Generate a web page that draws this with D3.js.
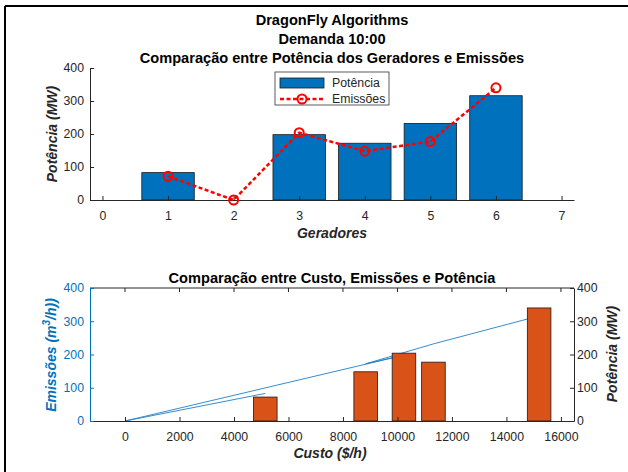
<!DOCTYPE html>
<html>
<head>
<meta charset="UTF-8">
<script src="https://d3js.org/d3.v7.min.js"></script>
<style>
  body { margin: 0; background: #fff; }
  svg { display: block; font-family: "Liberation Sans", Arial, sans-serif; }
  .tick text { font-size: 12.3px; }
</style>
</head>
<body>
<svg width="628" height="472"></svg>
<script>
// data
const geradores = [1, 2, 3, 4, 5, 6];
const potencia = [83, 0, 198, 172, 232, 316];      // MW
const emissoes = [72, 0, 204, 148, 177, 340];      // m3/h
const custo = [5149, 0, 10239, 8833, 11321, 15200]; // $/h
const xTicksTop = [0, 1, 2, 3, 4, 5, 6, 7];
const yTicks = [0, 100, 200, 300, 400];
const xTicksBottom = [0, 2000, 4000, 6000, 8000, 10000, 12000, 14000, 16000];

const svg = d3.select("svg");
const gray = "#262626";
const blue = "#0072BD";
const orange = "#D95319";

// figure frame
svg.append("line").attr("x1", 5).attr("x2", 628).attr("y1", 6).attr("y2", 6)
  .attr("stroke", "#000").attr("stroke-width", 2);
svg.append("line").attr("x1", 5).attr("x2", 5).attr("y1", 6).attr("y2", 472)
  .attr("stroke", "#000").attr("stroke-width", 2);

// ---------- top chart ----------
const x1 = d3.scaleLinear().domain([-0.19, 7.19]).range([90, 574]);
const y1 = d3.scaleLinear().domain([0, 400]).range([200, 68]);

const titles = ["DragonFly Algorithms", "Demanda 10:00", "Comparação entre Potência dos Geradores e Emissões"];
svg.selectAll(".ttl").data(titles).enter().append("text")
  .attr("class", "ttl")
  .attr("x", 332).attr("y", (d, i) => 25 + i * 19)
  .attr("text-anchor", "middle").attr("font-size", 14.6).attr("font-weight", "bold")
  .attr("fill", "#000").text(d => d);

const bw = 0.8;
svg.append("g").selectAll("rect").data(geradores).enter().append("rect")
  .attr("x", d => x1(d - bw / 2))
  .attr("width", x1(bw) - x1(0))
  .attr("y", (d, i) => y1(potencia[i]))
  .attr("height", (d, i) => y1(0) - y1(potencia[i]))
  .attr("fill", blue).attr("stroke", "#1a1a1a").attr("stroke-width", 0.8);

const gx1 = svg.append("g").attr("transform", "translate(0,200)")
  .call(d3.axisBottom(x1).tickValues(xTicksTop).tickSizeInner(-4).tickSizeOuter(0).tickPadding(11));
const gy1 = svg.append("g").attr("transform", "translate(90,0)")
  .call(d3.axisLeft(y1).tickValues(yTicks).tickSizeInner(-4).tickSizeOuter(0).tickPadding(6));
[gx1, gy1].forEach(g => {
  g.select(".domain").attr("stroke", gray);
  g.selectAll(".tick line").attr("stroke", gray);
  g.selectAll(".tick text").attr("fill", gray);
});

// emissions line
const lineTop = d3.line().x(d => x1(d[0])).y(d => y1(d[1]));
const emPts = geradores.map((g, i) => [g, emissoes[i]]);
svg.append("path").datum(emPts).attr("d", lineTop)
  .attr("fill", "none").attr("stroke", "#ff0000").attr("stroke-width", 2.5)
  .attr("stroke-dasharray", "4,2.5");
svg.append("g").selectAll("circle").data(emPts).enter().append("circle")
  .attr("cx", d => x1(d[0])).attr("cy", d => y1(d[1])).attr("r", 4.5)
  .attr("fill", "none").attr("stroke", "#ff0000").attr("stroke-width", 2);

svg.append("text").attr("transform", "translate(52,134) rotate(-90)")
  .attr("text-anchor", "middle").attr("dominant-baseline", "central")
  .attr("font-size", 14).attr("font-weight", "bold").attr("font-style", "italic")
  .attr("fill", gray).text("Potência (MW)");
svg.append("text").attr("x", 332).attr("y", 238)
  .attr("text-anchor", "middle")
  .attr("font-size", 14).attr("font-weight", "bold").attr("font-style", "italic")
  .attr("fill", gray).text("Geradores");

// legend
const lg = svg.append("g");
lg.append("rect").attr("x", 275).attr("y", 72).attr("width", 114).attr("height", 33)
  .attr("fill", "#fff").attr("stroke", "#333").attr("stroke-width", 0.8);
lg.append("rect").attr("x", 280).attr("y", 78).attr("width", 44).attr("height", 10)
  .attr("fill", blue).attr("stroke", "#1a1a1a").attr("stroke-width", 0.8);
lg.append("line").attr("x1", 280).attr("x2", 324).attr("y1", 99).attr("y2", 99)
  .attr("stroke", "#ff0000").attr("stroke-width", 2.5).attr("stroke-dasharray", "4,2.5");
lg.append("circle").attr("cx", 302).attr("cy", 99).attr("r", 4.5)
  .attr("fill", "none").attr("stroke", "#ff0000").attr("stroke-width", 2);
lg.append("text").attr("x", 332).attr("y", 87).attr("font-size", 12.3).attr("fill", gray).text("Potência");
lg.append("text").attr("x", 332).attr("y", 103).attr("font-size", 12.3).attr("fill", gray).text("Emissões");

// ---------- bottom chart ----------
const x2 = d3.scaleLinear().domain([-1285, 16480]).range([90, 574]);
const y2 = d3.scaleLinear().domain([0, 400]).range([421, 288]);

svg.append("text").attr("x", 332).attr("y", 283)
  .attr("text-anchor", "middle").attr("font-size", 14.6).attr("font-weight", "bold")
  .attr("fill", "#000").text("Comparação entre Custo, Emissões e Potência");

// cost vs power line (left axis)
const costPts = custo.map((c, i) => [c, potencia[i]]);
svg.append("path").datum(costPts)
  .attr("d", d3.line().x(d => x2(d[0])).y(d => y2(d[1])))
  .attr("fill", "none").attr("stroke", "#1f7fc8").attr("stroke-width", 0.9);

// bars (right axis)
const sortedCost = custo.slice().sort(d3.ascending);
const minGap = d3.min(d3.pairs(sortedCost), p => p[1] - p[0]);
const bw2 = 0.8 * minGap;
svg.append("g").selectAll("rect").data(custo).enter().append("rect")
  .attr("x", d => x2(d - bw2 / 2))
  .attr("width", x2(bw2) - x2(0))
  .attr("y", (d, i) => y2(emissoes[i]))
  .attr("height", (d, i) => y2(0) - y2(emissoes[i]))
  .attr("fill", orange).attr("stroke", "#1a1a1a").attr("stroke-width", 0.8);

// box top
svg.append("line").attr("x1", 90).attr("x2", 574).attr("y1", 288).attr("y2", 288)
  .attr("stroke", gray);
svg.append("g").selectAll("line").data(xTicksBottom).enter().append("line")
  .attr("x1", d => x2(d)).attr("x2", d => x2(d)).attr("y1", 288).attr("y2", 292)
  .attr("stroke", gray);

const gx2 = svg.append("g").attr("transform", "translate(0,421)")
  .call(d3.axisBottom(x2).tickValues(xTicksBottom).tickFormat(d3.format("d"))
    .tickSizeInner(-4).tickSizeOuter(0).tickPadding(11));
gx2.select(".domain").attr("stroke", gray);
gx2.selectAll(".tick line").attr("stroke", gray);
gx2.selectAll(".tick text").attr("fill", gray);

const gyL = svg.append("g").attr("transform", "translate(90,0)")
  .call(d3.axisLeft(y2).tickValues(yTicks).tickSizeInner(-4).tickSizeOuter(0).tickPadding(6));
gyL.select(".domain").attr("stroke", blue);
gyL.selectAll(".tick line").attr("stroke", blue);
gyL.selectAll(".tick text").attr("fill", blue);

const gyR = svg.append("g").attr("transform", "translate(574,0)")
  .call(d3.axisRight(y2).tickValues(yTicks).tickSizeInner(-4).tickSizeOuter(0).tickPadding(3));
gyR.select(".domain").attr("stroke", gray);
gyR.selectAll(".tick line").attr("stroke", gray);
gyR.selectAll(".tick text").attr("fill", gray);

const lblL = svg.append("text").attr("transform", "translate(51,355) rotate(-90)")
  .attr("text-anchor", "middle").attr("dominant-baseline", "central")
  .attr("font-size", 14).attr("font-weight", "bold").attr("font-style", "italic")
  .attr("fill", blue);
lblL.append("tspan").text("Emissões (m");
lblL.append("tspan").attr("font-size", 10).attr("dy", -5).text("3");
lblL.append("tspan").attr("dy", 5).text("/h))");

svg.append("text").attr("transform", "translate(612,354) rotate(-90)")
  .attr("text-anchor", "middle").attr("dominant-baseline", "central")
  .attr("font-size", 14).attr("font-weight", "bold").attr("font-style", "italic")
  .attr("fill", gray).text("Potência (MW)");
svg.append("text").attr("x", 330).attr("y", 458)
  .attr("text-anchor", "middle")
  .attr("font-size", 14).attr("font-weight", "bold").attr("font-style", "italic")
  .attr("fill", gray).text("Custo ($/h)");
</script>
</body>
</html>
